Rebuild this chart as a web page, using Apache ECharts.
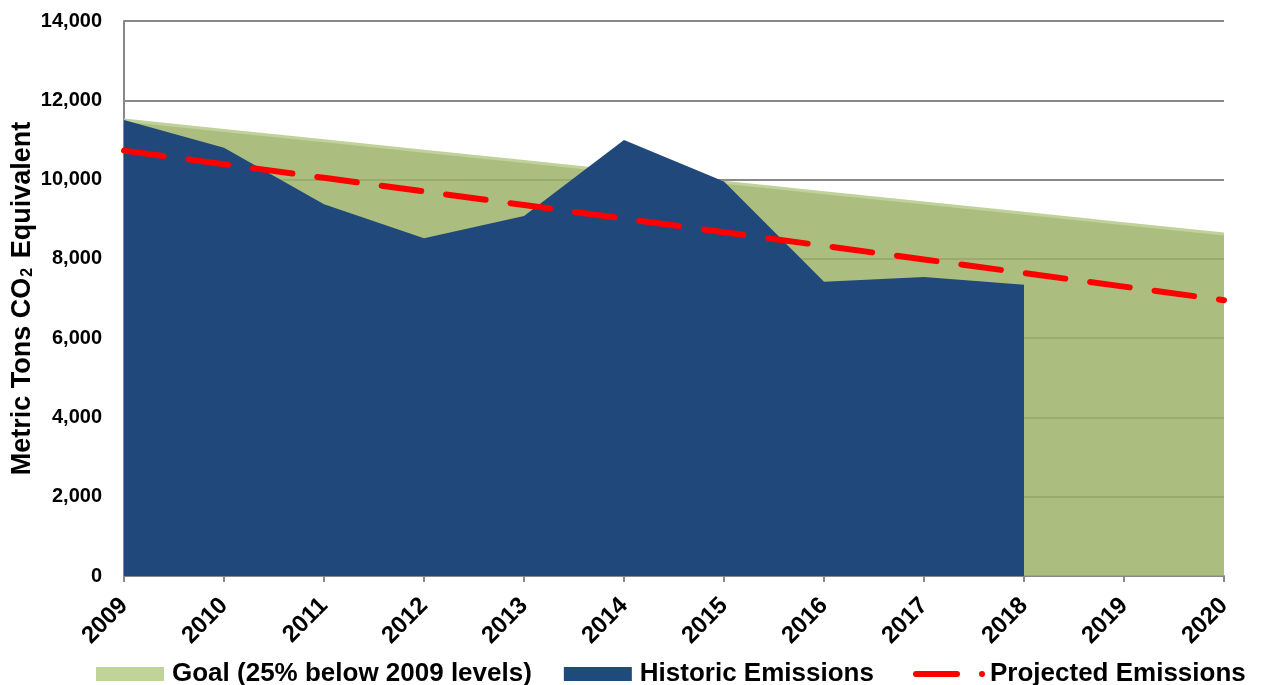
<!DOCTYPE html>
<html><head><meta charset="utf-8">
<script src="https://cdn.jsdelivr.net/npm/echarts@6/dist/echarts.min.js"></script>
<style>html,body{margin:0;padding:0;background:#fff}#c{width:1262px;height:685px}</style>
</head><body><div id="c"></div>
<script>
const years = ['2009','2010','2011','2012','2013','2014','2015','2016','2017','2018','2019','2020'];
const goal = [11500,11239,10977,10716,10455,10193,9932,9670,9409,9148,8886,8625];
const historic = [11500,10800,9380,8520,9080,11000,9950,7420,7540,7350,null,null];
const projected = [10730,10387,10044,9701,9358,9015,8672,8329,7986,7643,7300,6957];
const yTicks = {min:0, max:14000, interval:2000};

const chart = echarts.init(document.getElementById('c'));
const font = 'Liberation Sans, Arial, sans-serif';
const legendText = {fontSize:26, fontWeight:'bold', color:'#000', fontFamily:font};
chart.setOption({
  animation:false,
  textStyle:{fontFamily:font},
  grid:{left:124, right:38, top:21, bottom:109, containLabel:false, outerBoundsMode:'none'},
  legend:[{
    top:661, left:96, padding:0, itemGap:32, itemWidth:68, itemHeight:14,
    textStyle:Object.assign({padding:[0,0,0,3]}, legendText),
    data:[
      {name:'Goal (25% below 2009 levels)', icon:'rect', itemStyle:{color:'#c0d49a'}},
      {name:'Historic Emissions', icon:'rect', itemStyle:{color:'#1f4a7c'}}
    ]
  },{
    top:661, left:913, padding:0, itemWidth:72, itemHeight:6,
    textStyle:legendText,
    data:[
      {name:'Projected Emissions',
       icon:'path://M3,0H44A3,3 0 0 1 44,6H3A3,3 0 0 1 3,0Z M66,3A3,3 0 1 1 72,3A3,3 0 1 1 66,3Z',
       itemStyle:{color:'#ff0000'}}
    ]
  }],
  xAxis:{
    type:'category', data:years, boundaryGap:false,
    axisLine:{lineStyle:{color:'#888', width:2}},
    axisTick:{show:true, length:6, lineStyle:{color:'#888', width:2}},
    axisLabel:{rotate:45, fontSize:24, fontWeight:'bold', color:'#000', margin:26, fontFamily:font},
    splitLine:{show:false}
  },
  yAxis:{
    type:'value', min:yTicks.min, max:yTicks.max, interval:yTicks.interval,
    name:'Metric Tons CO{sub|2} Equivalent', nameLocation:'middle', nameGap:88, nameRotate:90,
    nameMoveOverlap:false,
    nameTextStyle:{fontSize:27, fontWeight:'bold', color:'#000', fontFamily:font,
      rich:{sub:{fontSize:16, fontWeight:'bold', color:'#000', fontFamily:font, verticalAlign:'bottom', padding:[10,2,0,1]}}},
    axisLine:{show:true, lineStyle:{color:'#888', width:2}},
    axisTick:{show:false},
    axisLabel:{fontSize:20, fontWeight:'bold', color:'#000', margin:22, fontFamily:font,
      formatter:v=>v.toLocaleString('en-US')},
    splitLine:{show:true, lineStyle:{color:'#888', width:2}}
  },
  series:[
    {name:'Goal (25% below 2009 levels)', type:'line', data:goal, symbol:'none', z:3,
      lineStyle:{width:3, color:'#bfd29a'}, itemStyle:{color:'#c0d49a'},
      areaStyle:{color:'rgba(156,179,105,0.85)', opacity:1}},
    {name:'Historic Emissions', type:'line', data:historic, symbol:'none', z:4,
      lineStyle:{width:0}, itemStyle:{color:'#1f4a7c'},
      areaStyle:{color:'#20487a', opacity:1}},
    {name:'Projected Emissions', type:'line', data:projected, symbol:'none', z:5,
      itemStyle:{color:'#ff0000'},
      lineStyle:{color:'#ff0000', width:6, type:[40,25], cap:'round'}}
  ]
});
</script></body></html>
